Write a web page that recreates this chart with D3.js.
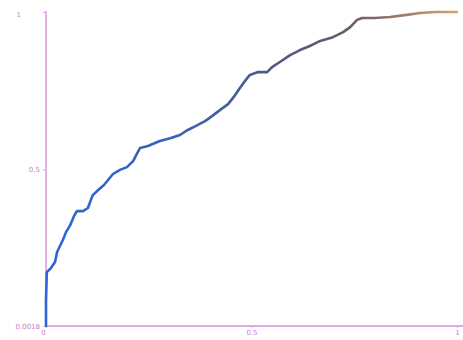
<!DOCTYPE html>
<html>
<head>
<meta charset="utf-8">
<script src="https://cdn.jsdelivr.net/npm/d3@7"></script>
<style>
  body { margin: 0; background: #fff; }
  .axis text { font-family: "DejaVu Sans", sans-serif; font-size: 7px; fill: #c77fc7; }
  .axis path, .axis line { stroke: #e6a6e6; }
</style>
</head>
<body>
<div id="svg-container"></div>
<script>
// data
const xs = [0, 0, 0.002, 0.012, 0.022, 0.027, 0.034, 0.041, 0.049, 0.058, 0.068, 0.075, 0.09, 0.102,
  0.109, 0.114, 0.127, 0.141, 0.151, 0.163, 0.18, 0.197, 0.212, 0.221, 0.229, 0.248, 0.277, 0.302,
  0.326, 0.345, 0.365, 0.387, 0.404, 0.423, 0.443, 0.457, 0.47, 0.482, 0.496, 0.516, 0.538, 0.55,
  0.569, 0.594, 0.618, 0.642, 0.667, 0.698, 0.723, 0.74, 0.757, 0.769, 0.8, 0.837, 0.873, 0.91, 0.946, 1];
const ys = [0.0018, 0.084, 0.173, 0.186, 0.205, 0.237, 0.256, 0.275, 0.301, 0.32, 0.351, 0.367, 0.367, 0.377,
  0.402, 0.418, 0.434, 0.45, 0.466, 0.485, 0.498, 0.507, 0.526, 0.549, 0.568, 0.574, 0.59, 0.599,
  0.609, 0.625, 0.638, 0.653, 0.669, 0.688, 0.707, 0.73, 0.755, 0.777, 0.8, 0.809, 0.809, 0.825,
  0.841, 0.863, 0.879, 0.892, 0.908, 0.92, 0.936, 0.952, 0.975, 0.981, 0.981, 0.984, 0.99, 0.997, 1, 1];
const xTicks = [0, 0.5, 1];
const yTicks = [0.0018, 0.5, 1];
const yTickLabels = ["0.0018", "0.5", "1"];

const width = 463;
const height = 340;

const svg = d3.select("#svg-container").append("svg")
  .attr("width", width)
  .attr("height", height);

// scales
const x = d3.scaleLinear().domain([0, 1]).range([46, 457]);
const y = d3.scaleLinear().domain([0.0018, 1]).range([326, 12]);

// gradient along x
const grad = svg.append("defs").append("linearGradient")
  .attr("id", "lineGrad")
  .attr("gradientUnits", "userSpaceOnUse")
  .attr("x1", x(0)).attr("x2", x(1))
  .attr("y1", 0).attr("y2", 0);
grad.selectAll("stop")
  .data([
    { o: 0, c: "#2a66d8" },
    { o: 0.3, c: "#3a62b8" },
    { o: 0.55, c: "#50598a" },
    { o: 0.75, c: "#6e5a68" },
    { o: 1, c: "#d9a06e" },
  ])
  .enter().append("stop")
  .attr("offset", (d) => d.o)
  .attr("stop-color", (d) => d.c);

// axes
const xAxis = svg.append("g")
  .attr("class", "axis")
  .attr("transform", `translate(0,${y(0.0018)})`)
  .call(d3.axisBottom(x).tickValues(xTicks).tickSize(2).tickPadding(2).tickFormat(d3.format("")));
xAxis.select(".domain").attr("d", `M${x(0)},0H${width}`).attr("stroke-width", 1.8);
xAxis.selectAll(".tick text").filter((d) => d === 0).attr("x", -3);

const yAxis = svg.append("g")
  .attr("class", "axis")
  .attr("transform", `translate(${x(0)},0)`)
  .call(d3.axisLeft(y).tickValues(yTicks).tickSize(3).tickPadding(3)
    .tickFormat((d, i) => yTickLabels[i]));
yAxis.select(".domain").attr("d", `M0,11V${y(0.0018)}`).attr("stroke-width", 1.8);
yAxis.selectAll(".tick text").filter((d) => d === 1).attr("x", -25).attr("dy", "0.7em");

// curve
const pts = xs.map((d, i) => [d, ys[i]]);
const line = d3.line()
  .x((d) => x(d[0]))
  .y((d) => y(d[1]));

svg.append("path")
  .datum(pts)
  .attr("d", line)
  .attr("fill", "none")
  .attr("stroke", "url(#lineGrad)")
  .attr("stroke-width", 2.6)
  .attr("stroke-linejoin", "round")
  .attr("stroke-linecap", "round");
</script>
</body>
</html>
